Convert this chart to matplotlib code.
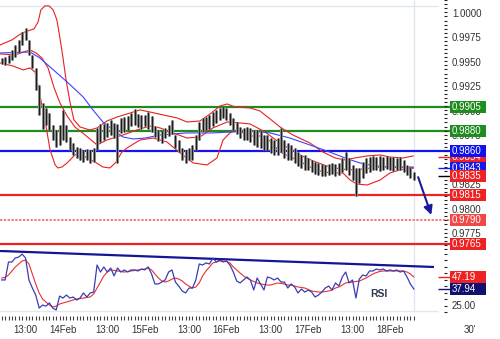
import numpy as np
import matplotlib
matplotlib.use('Agg')
import matplotlib.pyplot as plt
from matplotlib.patches import Rectangle

# ---------------- data (hours since 14Feb 00:00, 30' chart) ----------------
hours = np.arange(-18, 104)
high = [0.9955, 0.9956, 0.9958, 0.9963, 0.9968, 0.9973, 0.9982, 0.9986, 0.9973, 0.9958,
        0.9945, 0.9927, 0.9909, 0.9904, 0.9899, 0.9887, 0.9882, 0.9887,
        0.9902, 0.9887, 0.9874, 0.9868, 0.9864, 0.9863, 0.9861, 0.9862, 0.9861, 0.9863,
        0.9884, 0.9888, 0.9888, 0.9889, 0.9892, 0.9889, 0.9888, 0.9894, 0.9895, 0.9896,
        0.9899, 0.9903, 0.9898, 0.9897, 0.9897, 0.9900, 0.9896, 0.9886, 0.9881, 0.9880,
        0.9884, 0.9887, 0.9892, 0.9876, 0.9871, 0.9863, 0.9861, 0.9863, 0.9866, 0.9876,
        0.9890, 0.9894, 0.9895, 0.9897, 0.9900, 0.9902, 0.9904, 0.9905, 0.9904, 0.9899,
        0.9894, 0.9890, 0.9885, 0.9884, 0.9885, 0.9884, 0.9882, 0.9882, 0.9880, 0.9876,
        0.9876, 0.9873, 0.9871, 0.9873, 0.9884, 0.9871, 0.9868, 0.9866, 0.9863, 0.9859,
        0.9856, 0.9856, 0.9853, 0.9851, 0.9849, 0.9848, 0.9847, 0.9846, 0.9847, 0.9848,
        0.9847, 0.9848, 0.9853, 0.9859, 0.9853, 0.9846, 0.9843, 0.9843, 0.9849, 0.9853,
        0.9854, 0.9855, 0.9854, 0.9855, 0.9854, 0.9855, 0.9854, 0.9854, 0.9853, 0.9854,
        0.9851, 0.9846, 0.9843, 0.9839]
low = [0.9949, 0.9948, 0.9950, 0.9953, 0.9956, 0.9961, 0.9968, 0.9973, 0.9958, 0.9945,
       0.9922, 0.9897, 0.9883, 0.9887, 0.9882, 0.9871, 0.9864, 0.9866,
       0.9871, 0.9869, 0.9861, 0.9856, 0.9853, 0.9851, 0.9849, 0.9851, 0.9848, 0.9849,
       0.9861, 0.9869, 0.9871, 0.9874, 0.9876, 0.9873, 0.9848, 0.9878, 0.9879, 0.9882,
       0.9886, 0.9887, 0.9885, 0.9883, 0.9886, 0.9883, 0.9879, 0.9874, 0.9870, 0.9868,
       0.9873, 0.9875, 0.9877, 0.9863, 0.9859, 0.9851, 0.9848, 0.9851, 0.9851, 0.9861,
       0.9871, 0.9880, 0.9882, 0.9883, 0.9886, 0.9889, 0.9892, 0.9894, 0.9892, 0.9887,
       0.9882, 0.9877, 0.9873, 0.9871, 0.9871, 0.9869, 0.9866, 0.9864, 0.9863, 0.9861,
       0.9861, 0.9858, 0.9856, 0.9856, 0.9859, 0.9853, 0.9851, 0.9851, 0.9848, 0.9845,
       0.9843, 0.9841, 0.9841, 0.9839, 0.9837, 0.9836, 0.9835, 0.9835, 0.9836, 0.9837,
       0.9835, 0.9836, 0.9839, 0.9841, 0.9836, 0.9830, 0.9814, 0.9827, 0.9832, 0.9838,
       0.9839, 0.9841, 0.9841, 0.9840, 0.9841, 0.9842, 0.9841, 0.9840, 0.9841, 0.9841,
       0.9839, 0.9836, 0.9832, 0.9830]

# Bollinger bands (red) and moving average (blue), read at knot hours
bb_up_h = [-18.5, -15.0, -12.0, -8.5, -7.3, -6.5, -5.3, -4.1, -2.9, -1.8, -0.9, 0.0, 0.9, 2.1,
           3.2, 5.0, 7.9, 10.0, 12.9, 15.9, 18.8, 22.6, 25.5, 29.4, 33.5, 36.4, 40.2, 43.2,
           46.1, 48.2, 50.5, 54.9, 57.8, 60.8, 63.7, 67.5, 72.5, 76.3, 79.9, 82.8, 85.7,
           89.3, 93.1, 96.0, 99.8, 102.8]
bb_up = [0.99684, 0.99735, 0.99807, 0.99848, 0.99919, 1.00042, 1.00083, 1.00083, 1.00042,
         0.99940, 0.99756, 0.99551, 0.99326, 0.99091, 0.98918, 0.98846, 0.98815, 0.98836,
         0.98907, 0.98948, 0.98979, 0.99020, 0.98999, 0.98969, 0.98938, 0.98897, 0.98907,
         0.98979, 0.99060, 0.99081, 0.99050, 0.99040, 0.99010, 0.98928, 0.98846, 0.98764,
         0.98682, 0.98590, 0.98529, 0.98509, 0.98529, 0.98550, 0.98560, 0.98539, 0.98529,
         0.98550]
bb_mid_h = [-18.5, -14.1, -9.7, -7.9, -6.2, -4.4, -2.6, -0.9, 1.2, 3.5, 6.5, 10.0, 12.9, 17.6,
            21.7, 25.5, 28.5, 32.3, 36.4, 40.2, 44.0, 48.2, 52.0, 54.9, 59.3, 63.7, 69.6,
            73.4, 77.5, 81.3, 85.1, 88.1, 93.1, 98.1, 102.8]
bb_mid = [0.99592, 0.99582, 0.99633, 0.99602, 0.99551, 0.99449, 0.99245, 0.99091, 0.98958,
          0.98846, 0.98764, 0.98662, 0.98713, 0.98764, 0.98815, 0.98856, 0.98836, 0.98785,
          0.98733, 0.98744, 0.98836, 0.98897, 0.98887, 0.98877, 0.98795, 0.98682, 0.98560,
          0.98499, 0.98447, 0.98417, 0.98407, 0.98417, 0.98437, 0.98437, 0.98437]
bb_low_h = [-18.5, -14.7, -11.7, -9.7, -8.2, -6.8, -5.3, -3.8, -2.3, -1.5, -0.3, 1.2, 3.5, 5.0,
            7.0, 9.4, 11.7, 13.8, 15.6, 17.3, 18.8, 22.6, 26.4, 30.5, 34.4, 38.2, 42.3, 45.2,
            47.0, 49.0, 51.1, 54.9, 57.8, 60.8, 63.7, 68.7, 72.5, 76.3, 79.3, 82.2, 84.3,
            86.3, 89.3, 93.1, 96.0, 98.9, 102.8]
bb_low = [0.99500, 0.99469, 0.99429, 0.99449, 0.99408, 0.99173, 0.98918, 0.98611, 0.98458,
          0.98427, 0.98437, 0.98478, 0.98560, 0.98580, 0.98529, 0.98488, 0.98437, 0.98427,
          0.98488, 0.98590, 0.98631, 0.98713, 0.98733, 0.98693, 0.98580, 0.98478, 0.98458,
          0.98529, 0.98713, 0.98785, 0.98815, 0.98754, 0.98754, 0.98703, 0.98590, 0.98509,
          0.98437, 0.98386, 0.98376, 0.98376, 0.98304, 0.98263, 0.98253, 0.98304, 0.98376,
          0.98407, 0.98427]
ma_h = [-18.5, -9.7, -6.8, -3.8, 1.2, 5.9, 8.8, 11.7, 14.7, 17.6, 20.6, 24.1, 28.5, 36.4,
        44.0, 54.9, 60.8, 66.6, 72.5, 77.5, 82.8, 87.2, 91.6, 96.0, 102.8]
ma = [0.99602, 0.99612, 0.99551, 0.99459, 0.99306, 0.99153, 0.99020, 0.98897, 0.98815,
      0.98744, 0.98723, 0.98733, 0.98764, 0.98785, 0.98785, 0.98805, 0.98785, 0.98733,
      0.98662, 0.98600, 0.98529, 0.98478, 0.98447, 0.98437, 0.98427]

# RSI (blue) and its average (red), hourly
rsi = [44.9, 44.9, 58.7, 58.7, 61.8, 62.5, 64.8, 61.8, 44.9, 38.7, 33.3, 23.3, 25.6, 24.8,
       27.2, 23.3, 21.8, 32.5, 31.0, 33.3, 31.0, 31.8, 29.5, 31.0, 34.9, 31.8, 34.9, 35.6,
       56.4, 51.0, 54.9, 51.0, 54.1, 48.0, 54.1, 51.0, 52.6, 51.0, 52.6, 52.6, 51.8, 53.3,
       52.6, 54.9, 49.5, 41.8, 41.8, 43.3, 44.9, 51.0, 52.6, 43.3, 40.2, 36.4, 34.9, 38.7,
       38.7, 44.9, 57.2, 56.4, 58.0, 57.2, 61.8, 58.7, 60.2, 58.7, 59.5, 56.4, 51.0, 44.1,
       42.6, 44.9, 47.2, 44.9, 37.2, 46.4, 41.8, 37.2, 47.2, 46.4, 44.9, 46.4, 43.3, 43.3,
       38.7, 41.8, 39.5, 34.9, 37.9, 35.6, 37.2, 35.6, 31.8, 33.3, 35.6, 38.7, 40.2, 37.2,
       42.6, 40.2, 47.2, 51.0, 42.6, 44.9, 31.0, 45.6, 48.7, 48.0, 51.8, 51.8, 53.3, 52.6,
       53.3, 51.8, 52.6, 51.8, 52.6, 51.0, 51.8, 47.2, 41.8, 37.94]
rsi_avg = [46.4, 46.8, 48.7, 51.8, 54.9, 57.2, 59.5, 60.2, 57.2, 49.5, 41.8, 34.9, 30.2, 27.9,
           25.6, 24.1, 24.8, 26.4, 27.2, 27.9, 28.7, 29.5, 30.2, 30.6, 31.0, 31.4, 31.8, 34.1,
           38.7, 43.3, 48.0, 51.0, 52.6, 52.2, 51.8, 51.4, 51.0, 51.4, 51.8, 52.2, 52.6, 53.0,
           53.3, 54.1, 52.6, 49.5, 46.4, 44.1, 43.3, 44.1, 45.6, 46.4, 45.6, 44.1, 41.8, 40.2,
           38.7, 39.5, 42.6, 48.0, 51.8, 54.9, 58.0, 58.7, 59.5, 59.5, 59.1, 58.0, 54.9, 52.6,
           50.2, 48.0, 46.4, 44.9, 43.7, 42.6, 41.8, 41.4, 41.0, 41.0, 41.8, 42.6, 42.2, 41.8,
           41.0, 41.0, 40.2, 39.5, 39.1, 38.7, 37.6, 36.4, 36.0, 35.6, 35.6, 36.0, 36.4, 37.2,
           38.7, 39.5, 41.0, 42.6, 43.0, 43.3, 43.7, 44.1, 45.2, 46.4, 48.0, 49.5, 50.6, 51.4,
           51.8, 51.8, 51.8, 51.8, 51.8, 51.8, 51.8, 51.0, 49.5, 47.19]
rsi_trend_h = [-18.5, 108.6]
rsi_trend = [67.2, 54.9]

# levels and labels
levels = [0.9905, 0.9880, 0.9860, 0.9815, 0.9790, 0.9765]
level_colors = ['#1e8c1e', '#1e8c1e', '#1414f0', '#ee2222', '#f05a5a', '#ee2222']
price_ticks = [1.0000, 0.9975, 0.9950, 0.9925, 0.9900, 0.9875, 0.9825, 0.9800, 0.9775]
box_values = [0.9905, 0.9880, 0.9854, 0.9860, 0.9843, 0.9835, 0.9815, 0.9790, 0.9765]
box_colors = ['#1e8c1e', '#1e8c1e', '#ee2222', '#1010f0', '#1818e6', '#ee2222', '#ee2222',
              '#f04848', '#ee2222']
stub_values = [0.9854, 0.9843, 0.9835]
stub_colors = ['#ee2222', '#1818e6', '#000000']
rsi_boxes = [47.19, 37.94]
rsi_box_colors = ['#ee2222', '#10106e']
arrow_h = [104.0, 108.4]
arrow_p = [0.9836, 0.9792]
xtick_h = [-11, 0, 13, 24, 37, 48, 61, 72, 85, 96]
xtick_lbl = ['13:00', '14Feb', '13:00', '15Feb', '13:00', '16Feb', '13:00', '17Feb', '13:00', '18Feb']

# ---------------- layout helpers (pixels -> data) ----------------
PXH = 3.406            # pixels per hour
def hx(px):
    return (px - 63) / PXH
PPX = 0.0001022        # price per pixel
RPX = 1 / 1.3          # RSI per pixel

FONT = 'Liberation Sans'
TXT = '#333333'
LIGHT = '#dfe7f0'

fig = plt.figure(figsize=(5, 3.39), dpi=100)
ax = fig.add_axes([0, 89 / 339, 1, 250 / 339])
ax.set_xlim(hx(0), hx(500))
ax.set_ylim(0.97589, 1.00143)
ax.axis('off')
ax2 = fig.add_axes([0, 0, 1, 89 / 339])
ax2.set_xlim(hx(0), hx(500))
ax2.set_ylim(-0.51, 67.94)
ax2.axis('off')

# light frame lines
ax.hlines(1.00083, hx(0), hx(438), color=LIGHT, lw=1, zorder=0)
ax.vlines(hx(414), 0.97589, 1.00143, color=LIGHT, lw=1, zorder=0)
ax2.vlines(hx(414), 20.2, 67.94, color=LIGHT, lw=1, zorder=0)
ax2.hlines(21.0, hx(0), hx(438), color=LIGHT, lw=1, zorder=0)

# levels
for v, c in zip(levels, level_colors):
    if v == 0.9790:
        ax.hlines(v, hx(0), hx(450), color=c, lw=1.1, ls=(0, (1.5, 1)), zorder=2)
    else:
        ax.hlines(v, hx(0), hx(450), color=c, lw=1.6, zorder=2)

# bands and MA
ax.plot(bb_up_h, bb_up, color='#e82020', lw=0.8, zorder=3)
ax.plot(bb_mid_h, bb_mid, color='#e82020', lw=0.8, zorder=3)
ax.plot(bb_low_h, bb_low, color='#e82020', lw=0.8, zorder=3)
ax.plot(ma_h, ma, color='#4040ff', lw=0.8, zorder=3)

# bars: grey body with dark core
ax.vlines(hours, low, high, color='#8a8a8a', lw=2.2, zorder=4)
ax.vlines(hours, low, high, color='#1a1a1a', lw=0.7, zorder=4)

# arrow
ax.annotate('', xy=(arrow_h[1], arrow_p[1]), xytext=(arrow_h[0], arrow_p[0]),
            arrowprops=dict(arrowstyle='-|>', color='#1a1a9a', lw=1.5, mutation_scale=13),
            zorder=5)

# right price scale
for v in price_ticks:
    ax.text(hx(452), v, f'{v:.4f}', ha='left', va='center', fontsize=7,
            family=FONT, color=TXT, zorder=6)
minor = np.arange(0.9760, 1.0015, 0.0025 / 6)
ax.hlines(minor, hx(444), hx(447), color='#222222', lw=0.8, zorder=6)

# stubs and boxes
for v, c in zip(stub_values, stub_colors):
    ax.hlines(v, hx(438), hx(450), color=c, lw=1.0, zorder=6)
bw = 36 / PXH
bh = 12 * PPX
for i, (v, c) in enumerate(zip(box_values, box_colors)):
    ax.add_patch(Rectangle((hx(450), v - bh / 2), bw, bh, facecolor=c, edgecolor='none',
                           zorder=7 + i * 2))
    ax.text(hx(452), v, f'{v:.4f}', ha='left', va='center', fontsize=7, family=FONT,
            color='white', zorder=8 + i * 2)

# RSI panel
ax2.plot(rsi_trend_h, rsi_trend, color='#141496', lw=1.6, zorder=3)
ax2.plot(hours, rsi_avg, color='#e83030', lw=0.8, zorder=4)
ax2.plot(hours, rsi, color='#3c3cb4', lw=0.9, zorder=5)
ax2.text(hx(379), 34.1, 'RSI', ha='center', va='center', fontsize=7.5, fontweight='bold',
         family=FONT, color='#2b3a55')
ax2.text(hx(452), 25.0, '25.00', ha='left', va='center', fontsize=7, family=FONT, color=TXT)
ax2.hlines(np.arange(20, 70, 5), hx(444), hx(447), color='#222222', lw=0.8)
for v, c in zip(rsi_boxes, rsi_box_colors):
    ax2.hlines(v, hx(438), hx(450), color=c, lw=1.0, zorder=6)
rbh = 12 * RPX
for i, (v, c) in enumerate(zip(rsi_boxes, rsi_box_colors)):
    ax2.add_patch(Rectangle((hx(450), v - rbh / 2), bw, rbh, facecolor=c, edgecolor='none',
                            zorder=7 + i * 2))
    ax2.text(hx(452), v, f'{v:.2f}', ha='left', va='center', fontsize=7, family=FONT,
             color='white', zorder=8 + i * 2)

# time axis
ax2.vlines(hours, 14.1, 17.2, color='#444444', lw=0.8)
for h, t in zip(xtick_h, xtick_lbl):
    ax2.text(h, 6.4, t, ha='center', va='center', fontsize=7, family=FONT, color=TXT)
ax2.text(hx(470), 6.4, "30'", ha='center', va='center', fontsize=7, family=FONT, color=TXT)

fig.savefig('out.png', dpi=100)
